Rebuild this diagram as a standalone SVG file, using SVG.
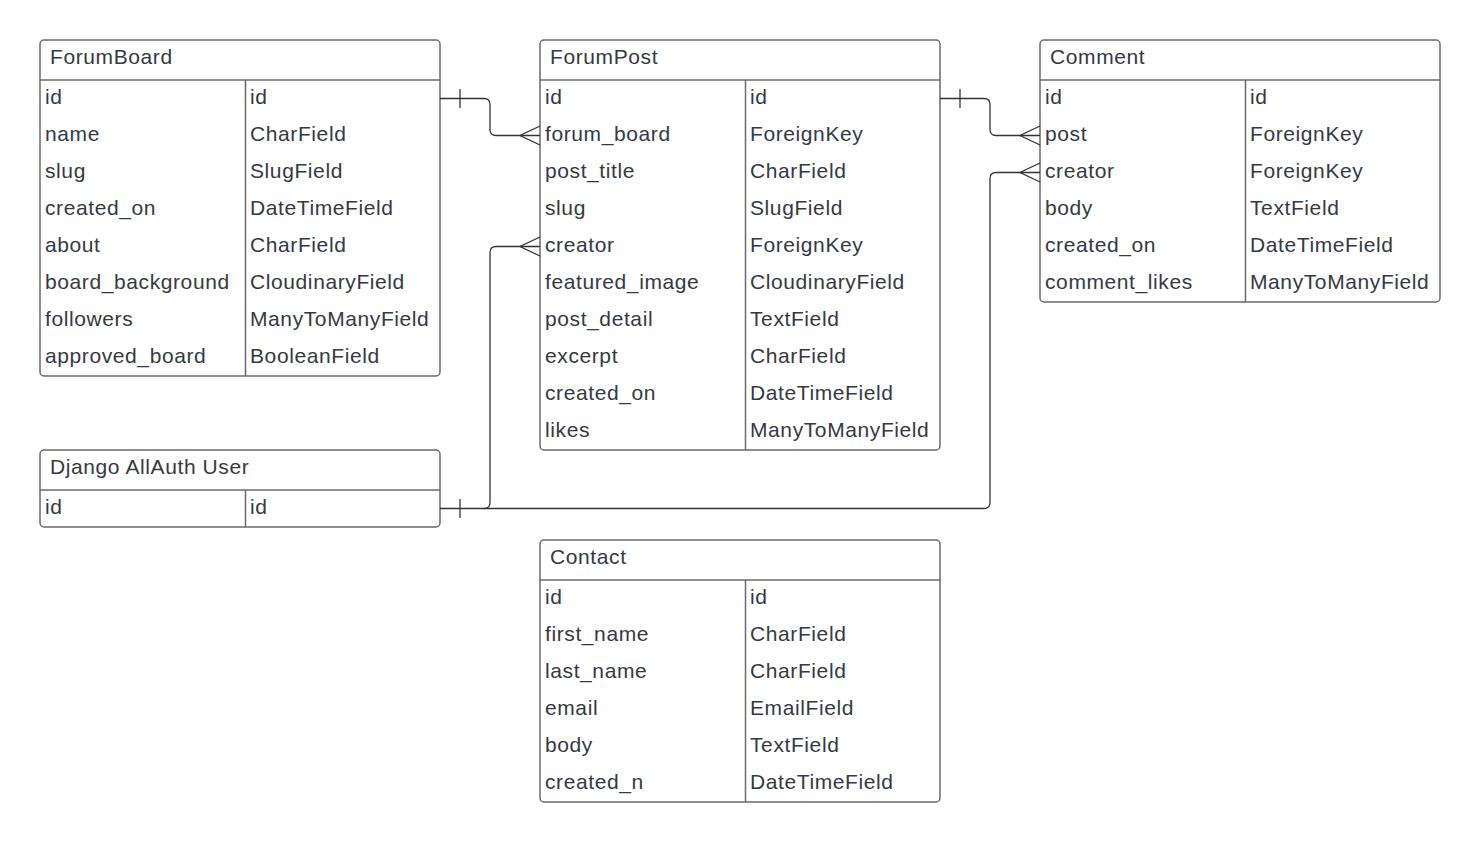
<svg xmlns="http://www.w3.org/2000/svg" width="1480" height="842" viewBox="0 0 1480 842">
<style>
.box{fill:#fff;stroke:#6b6b6b;stroke-width:1.5}
.ln{stroke:#6b6b6b;stroke-width:1.5;fill:none}
.t{font-family:"Liberation Sans",Arial,sans-serif;font-size:21px;letter-spacing:0.6px;fill:#343a43}
.c{stroke:#333;stroke-width:1.3;fill:none}
</style>
<rect width="1480" height="842" fill="#fff"/>
<g id="ForumBoard">
<rect class="box" x="40" y="40" width="400" height="336" rx="4"/>
<line class="ln" x1="40" y1="80" x2="440" y2="80"/>
<line class="ln" x1="245.5" y1="80" x2="245.5" y2="376"/>
<text class="t" x="50" y="64">ForumBoard</text>
<g class="t">
<text x="45" y="103.5">id</text><text x="250" y="103.5">id</text>
<text x="45" y="140.5">name</text><text x="250" y="140.5">CharField</text>
<text x="45" y="177.5">slug</text><text x="250" y="177.5">SlugField</text>
<text x="45" y="214.5">created_on</text><text x="250" y="214.5">DateTimeField</text>
<text x="45" y="251.5">about</text><text x="250" y="251.5">CharField</text>
<text x="45" y="288.5">board_background</text><text x="250" y="288.5">CloudinaryField</text>
<text x="45" y="325.5">followers</text><text x="250" y="325.5">ManyToManyField</text>
<text x="45" y="362.5">approved_board</text><text x="250" y="362.5">BooleanField</text>
</g>
</g>
<g id="ForumPost">
<rect class="box" x="540" y="40" width="400" height="410" rx="4"/>
<line class="ln" x1="540" y1="80" x2="940" y2="80"/>
<line class="ln" x1="745.5" y1="80" x2="745.5" y2="450"/>
<text class="t" x="550" y="64">ForumPost</text>
<g class="t">
<text x="545" y="103.5">id</text><text x="750" y="103.5">id</text>
<text x="545" y="140.5">forum_board</text><text x="750" y="140.5">ForeignKey</text>
<text x="545" y="177.5">post_title</text><text x="750" y="177.5">CharField</text>
<text x="545" y="214.5">slug</text><text x="750" y="214.5">SlugField</text>
<text x="545" y="251.5">creator</text><text x="750" y="251.5">ForeignKey</text>
<text x="545" y="288.5">featured_image</text><text x="750" y="288.5">CloudinaryField</text>
<text x="545" y="325.5">post_detail</text><text x="750" y="325.5">TextField</text>
<text x="545" y="362.5">excerpt</text><text x="750" y="362.5">CharField</text>
<text x="545" y="399.5">created_on</text><text x="750" y="399.5">DateTimeField</text>
<text x="545" y="436.5">likes</text><text x="750" y="436.5">ManyToManyField</text>
</g>
</g>
<g id="Comment">
<rect class="box" x="1040" y="40" width="400" height="262" rx="4"/>
<line class="ln" x1="1040" y1="80" x2="1440" y2="80"/>
<line class="ln" x1="1245.5" y1="80" x2="1245.5" y2="302"/>
<text class="t" x="1050" y="64">Comment</text>
<g class="t">
<text x="1045" y="103.5">id</text><text x="1250" y="103.5">id</text>
<text x="1045" y="140.5">post</text><text x="1250" y="140.5">ForeignKey</text>
<text x="1045" y="177.5">creator</text><text x="1250" y="177.5">ForeignKey</text>
<text x="1045" y="214.5">body</text><text x="1250" y="214.5">TextField</text>
<text x="1045" y="251.5">created_on</text><text x="1250" y="251.5">DateTimeField</text>
<text x="1045" y="288.5">comment_likes</text><text x="1250" y="288.5">ManyToManyField</text>
</g>
</g>
<g id="DjangoAllAuthUser">
<rect class="box" x="40" y="450" width="400" height="77" rx="4"/>
<line class="ln" x1="40" y1="490" x2="440" y2="490"/>
<line class="ln" x1="245.5" y1="490" x2="245.5" y2="527"/>
<text class="t" x="50" y="474">Django AllAuth User</text>
<g class="t">
<text x="45" y="513.5">id</text><text x="250" y="513.5">id</text>
</g>
</g>
<g id="Contact">
<rect class="box" x="540" y="540" width="400" height="262" rx="4"/>
<line class="ln" x1="540" y1="580" x2="940" y2="580"/>
<line class="ln" x1="745.5" y1="580" x2="745.5" y2="802"/>
<text class="t" x="550" y="564">Contact</text>
<g class="t">
<text x="545" y="603.5">id</text><text x="750" y="603.5">id</text>
<text x="545" y="640.5">first_name</text><text x="750" y="640.5">CharField</text>
<text x="545" y="677.5">last_name</text><text x="750" y="677.5">CharField</text>
<text x="545" y="714.5">email</text><text x="750" y="714.5">EmailField</text>
<text x="545" y="751.5">body</text><text x="750" y="751.5">TextField</text>
<text x="545" y="788.5">created_n</text><text x="750" y="788.5">DateTimeField</text>
</g>
</g>
<g id="connectors">
<path class="c" d="M440 98.5 H484 Q490 98.5 490 104.5 V129.5 Q490 135.5 496 135.5 H540"/>
<path class="c" d="M460 89 V108"/>
<path class="c" d="M540 126 L520 135.5 L540 145"/>
<path class="c" d="M940 98.5 H984 Q990 98.5 990 104.5 V129.5 Q990 135.5 996 135.5 H1040"/>
<path class="c" d="M960 89 V108"/>
<path class="c" d="M1040 126 L1020 135.5 L1040 145"/>
<path class="c" d="M440 508.5 H484 Q490 508.5 490 502.5 V252.5 Q490 246.5 496 246.5 H540"/>
<path class="c" d="M460 499 V518"/>
<path class="c" d="M540 237 L520 246.5 L540 256"/>
<path class="c" d="M484 508.5 H984 Q990 508.5 990 502.5 V178.5 Q990 172.5 996 172.5 H1040"/>
<path class="c" d="M1040 163 L1020 172.5 L1040 182"/>
</g>
</svg>
